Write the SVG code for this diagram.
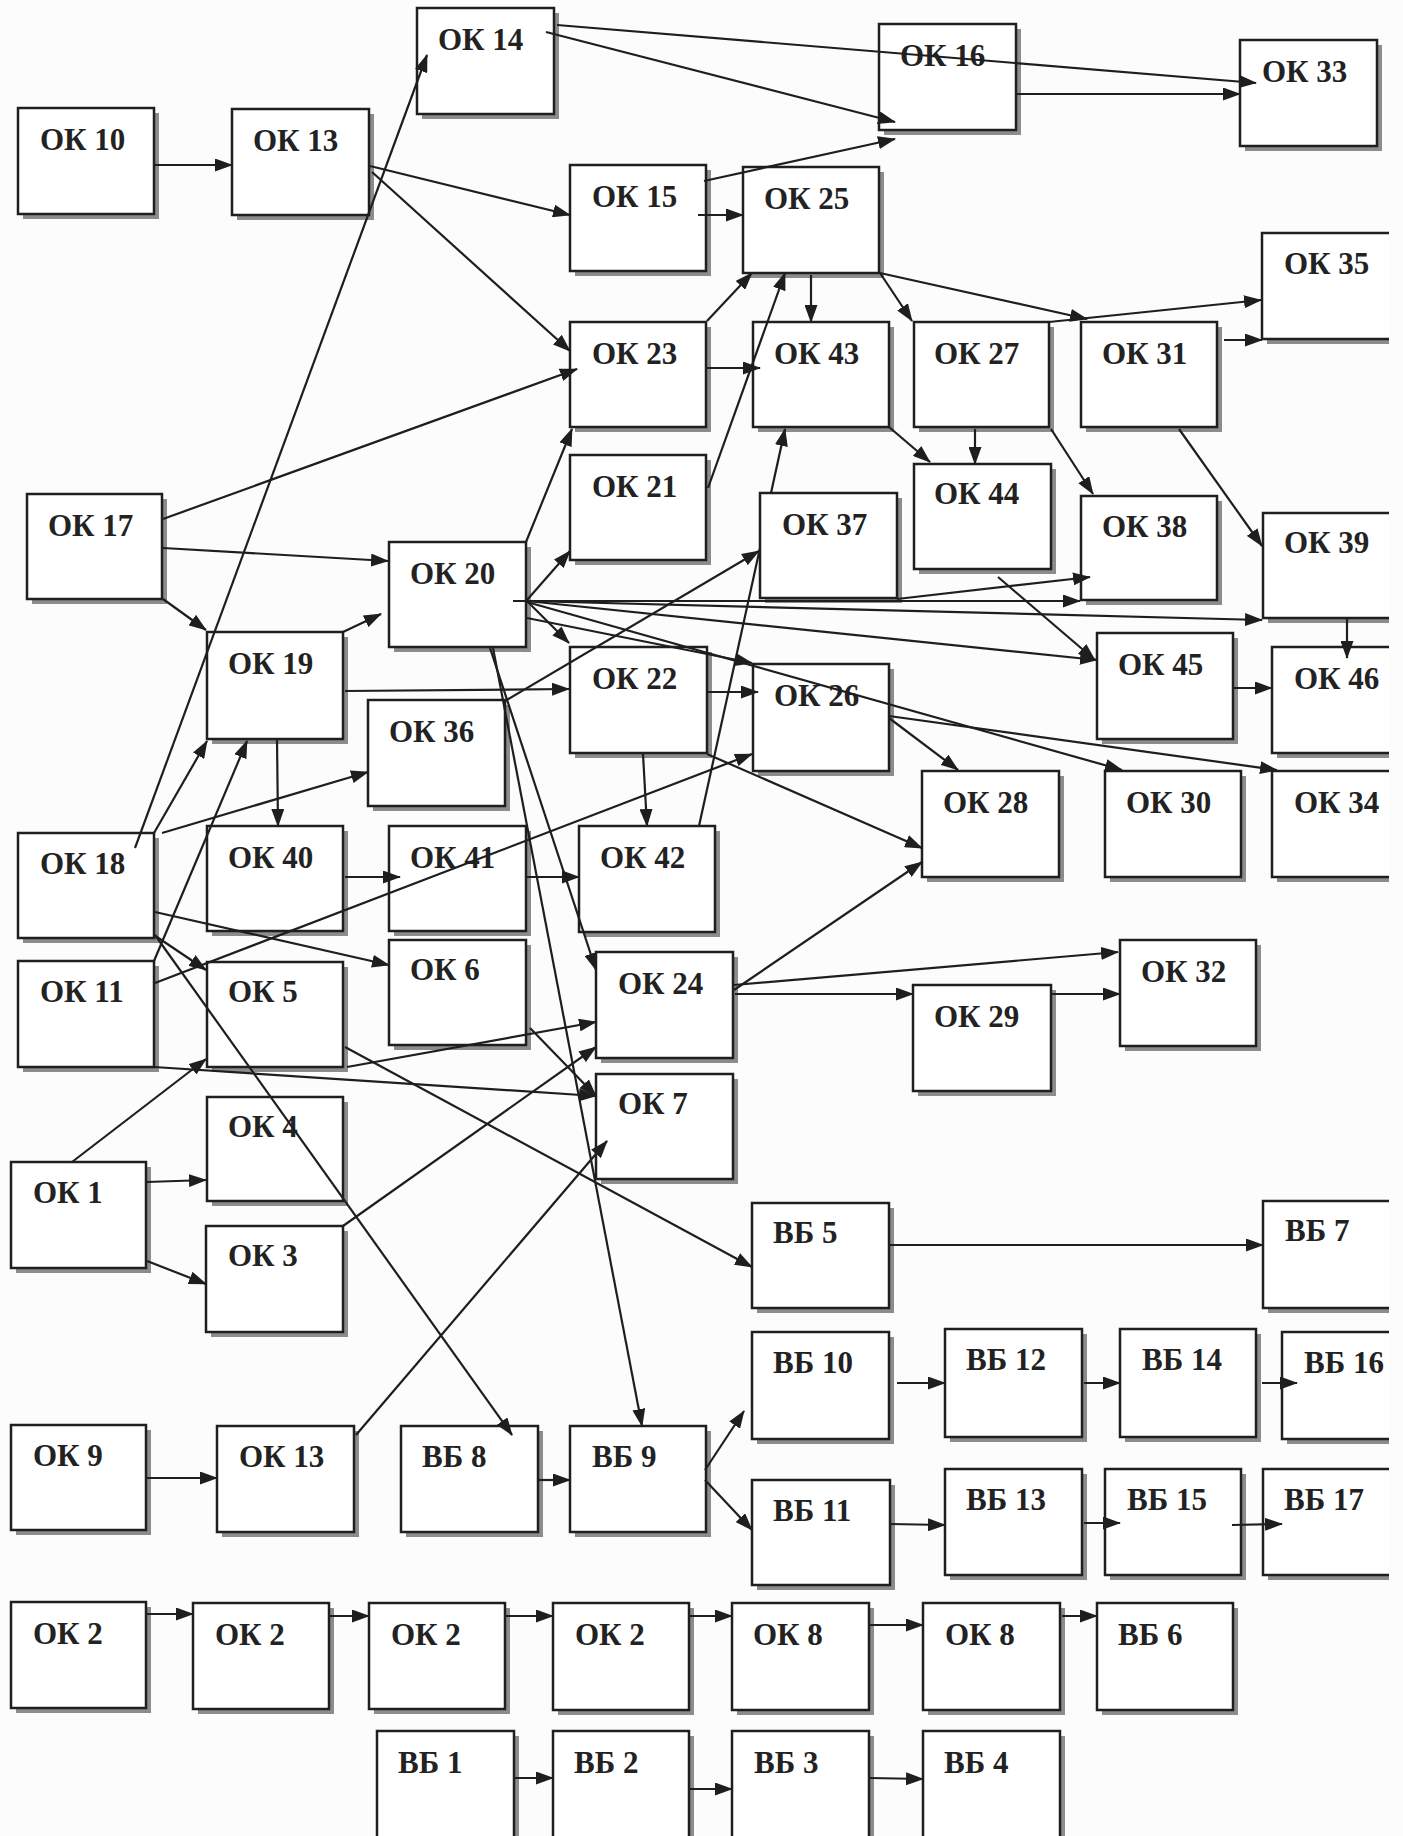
<svg xmlns="http://www.w3.org/2000/svg" width="1403" height="1836" viewBox="0 0 1403 1836">
<defs>
<marker id="ah" markerUnits="userSpaceOnUse" markerWidth="18" markerHeight="13" refX="17" refY="6.5" orient="auto" viewBox="0 0 18 13"><path d="M0,0 L18,6.5 L0,13 z" fill="#1e1e1e"/></marker>
</defs>
<style>
.sh{fill:#8c8c8c}
.bx{fill:#fff;stroke:#1f1f1f;stroke-width:2.5}
.bg{fill:#fff}
.ob{fill:none;stroke:#1f1f1f;stroke-width:2.5}
text{font-family:"Liberation Serif","Times New Roman",serif;font-weight:bold;font-size:31px;fill:#222}
#connectors path{stroke:#1e1e1e;stroke-width:2.2;fill:none}
#connectors .a{marker-end:url(#ah)}
</style>
<rect width="1403" height="1836" fill="#fcfcfc"/>
<g id="nodes">
<g id="ok14" transform="translate(417,8)"><rect class="sh" x="5" y="5" width="137" height="106"/><rect class="bx" width="137" height="106"/><text x="21" y="42">ОК 14</text></g>
<g id="ok16" transform="translate(879,24)"><rect class="sh" x="5" y="5" width="137" height="106"/><rect class="bx" width="137" height="106"/><text x="21" y="42">ОК 16</text></g>
<g id="ok33" transform="translate(1240,40)"><rect class="sh" x="5" y="5" width="137" height="106"/><rect class="bx" width="137" height="106"/><text x="22" y="42">ОК 33</text></g>
<g id="ok10" transform="translate(18,108)"><rect class="sh" x="5" y="5" width="136" height="106"/><rect class="bx" width="136" height="106"/><text x="22" y="42">ОК 10</text></g>
<g id="ok13a" transform="translate(232,109)"><rect class="sh" x="5" y="5" width="137" height="106"/><rect class="bx" width="137" height="106"/><text x="21" y="42">ОК 13</text></g>
<g id="ok15" transform="translate(570,165)"><rect class="sh" x="5" y="5" width="136" height="106"/><rect class="bx" width="136" height="106"/><text x="22" y="42">ОК 15</text></g>
<g id="ok25" transform="translate(743,167)"><rect class="sh" x="5" y="5" width="136" height="106"/><rect class="bx" width="136" height="106"/><text x="21" y="42">ОК 25</text></g>
<g id="ok35" transform="translate(1262,233)"><rect class="sh" x="5" y="5" width="122" height="106"/><rect class="bg" width="127" height="106"/><path class="ob" d="M127,0 H0 V106 H127"/><text x="22" y="41">ОК 35</text></g>
<g id="ok23" transform="translate(570,322)"><rect class="sh" x="5" y="5" width="136" height="105"/><rect class="bx" width="136" height="105"/><text x="22" y="42">ОК 23</text></g>
<g id="ok43" transform="translate(753,322)"><rect class="sh" x="5" y="5" width="136" height="105"/><rect class="bx" width="136" height="105"/><text x="21" y="42">ОК 43</text></g>
<g id="ok27" transform="translate(914,322)"><rect class="sh" x="5" y="5" width="135" height="105"/><rect class="bx" width="135" height="105"/><text x="20" y="42">ОК 27</text></g>
<g id="ok31" transform="translate(1081,322)"><rect class="sh" x="5" y="5" width="136" height="105"/><rect class="bx" width="136" height="105"/><text x="21" y="42">ОК 31</text></g>
<g id="ok21" transform="translate(570,455)"><rect class="sh" x="5" y="5" width="136" height="105"/><rect class="bx" width="136" height="105"/><text x="22" y="42">ОК 21</text></g>
<g id="ok44" transform="translate(914,464)"><rect class="sh" x="5" y="5" width="137" height="105"/><rect class="bx" width="137" height="105"/><text x="20" y="40">ОК 44</text></g>
<g id="ok17" transform="translate(27,494)"><rect class="sh" x="5" y="5" width="135" height="105"/><rect class="bx" width="135" height="105"/><text x="21" y="42">ОК 17</text></g>
<g id="ok37" transform="translate(760,493)"><rect class="sh" x="5" y="5" width="137" height="105"/><rect class="bx" width="137" height="105"/><text x="22" y="42">ОК 37</text></g>
<g id="ok38" transform="translate(1081,496)"><rect class="sh" x="5" y="5" width="136" height="104"/><rect class="bx" width="136" height="104"/><text x="21" y="41">ОК 38</text></g>
<g id="ok39" transform="translate(1263,513)"><rect class="sh" x="5" y="5" width="121" height="105"/><rect class="bg" width="126" height="105"/><path class="ob" d="M126,0 H0 V105 H126"/><text x="21" y="40">ОК 39</text></g>
<g id="ok20" transform="translate(389,542)"><rect class="sh" x="5" y="5" width="137" height="105"/><rect class="bx" width="137" height="105"/><text x="21" y="42">ОК 20</text></g>
<g id="ok19" transform="translate(207,632)"><rect class="sh" x="5" y="5" width="136" height="107"/><rect class="bx" width="136" height="107"/><text x="21" y="42">ОК 19</text></g>
<g id="ok22" transform="translate(570,647)"><rect class="sh" x="5" y="5" width="137" height="106"/><rect class="bx" width="137" height="106"/><text x="22" y="42">ОК 22</text></g>
<g id="ok26" transform="translate(753,664)"><rect class="sh" x="5" y="5" width="136" height="107"/><rect class="bx" width="136" height="107"/><text x="21" y="42">ОК 26</text></g>
<g id="ok45" transform="translate(1097,633)"><rect class="sh" x="5" y="5" width="136" height="106"/><rect class="bx" width="136" height="106"/><text x="21" y="42">ОК 45</text></g>
<g id="ok46" transform="translate(1272,647)"><rect class="sh" x="5" y="5" width="112" height="106"/><rect class="bg" width="117" height="106"/><path class="ob" d="M117,0 H0 V106 H117"/><text x="22" y="42">ОК 46</text></g>
<g id="ok36" transform="translate(368,700)"><rect class="sh" x="5" y="5" width="137" height="106"/><rect class="bx" width="137" height="106"/><text x="21" y="42">ОК 36</text></g>
<g id="ok28" transform="translate(922,771)"><rect class="sh" x="5" y="5" width="137" height="106"/><rect class="bx" width="137" height="106"/><text x="21" y="42">ОК 28</text></g>
<g id="ok30" transform="translate(1105,771)"><rect class="sh" x="5" y="5" width="136" height="106"/><rect class="bx" width="136" height="106"/><text x="21" y="42">ОК 30</text></g>
<g id="ok34" transform="translate(1272,771)"><rect class="sh" x="5" y="5" width="112" height="106"/><rect class="bg" width="117" height="106"/><path class="ob" d="M117,0 H0 V106 H117"/><text x="22" y="42">ОК 34</text></g>
<g id="ok18" transform="translate(18,833)"><rect class="sh" x="5" y="5" width="136" height="105"/><rect class="bx" width="136" height="105"/><text x="22" y="41">ОК 18</text></g>
<g id="ok40" transform="translate(207,826)"><rect class="sh" x="5" y="5" width="136" height="105"/><rect class="bx" width="136" height="105"/><text x="21" y="42">ОК 40</text></g>
<g id="ok41" transform="translate(389,826)"><rect class="sh" x="5" y="5" width="137" height="105"/><rect class="bx" width="137" height="105"/><text x="21" y="42">ОК 41</text></g>
<g id="ok42" transform="translate(579,826)"><rect class="sh" x="5" y="5" width="136" height="106"/><rect class="bx" width="136" height="106"/><text x="21" y="42">ОК 42</text></g>
<g id="ok11" transform="translate(18,961)"><rect class="sh" x="5" y="5" width="136" height="106"/><rect class="bx" width="136" height="106"/><text x="22" y="41">ОК 11</text></g>
<g id="ok5" transform="translate(207,962)"><rect class="sh" x="5" y="5" width="136" height="105"/><rect class="bx" width="136" height="105"/><text x="21" y="40">ОК 5</text></g>
<g id="ok6" transform="translate(389,940)"><rect class="sh" x="5" y="5" width="137" height="105"/><rect class="bx" width="137" height="105"/><text x="21" y="40">ОК 6</text></g>
<g id="ok24" transform="translate(596,952)"><rect class="sh" x="5" y="5" width="137" height="106"/><rect class="bx" width="137" height="106"/><text x="22" y="42">ОК 24</text></g>
<g id="ok32" transform="translate(1120,940)"><rect class="sh" x="5" y="5" width="136" height="106"/><rect class="bx" width="136" height="106"/><text x="21" y="42">ОК 32</text></g>
<g id="ok29" transform="translate(913,985)"><rect class="sh" x="5" y="5" width="138" height="106"/><rect class="bx" width="138" height="106"/><text x="21" y="42">ОК 29</text></g>
<g id="ok7" transform="translate(596,1074)"><rect class="sh" x="5" y="5" width="137" height="105"/><rect class="bx" width="137" height="105"/><text x="22" y="40">ОК 7</text></g>
<g id="ok4" transform="translate(207,1097)"><rect class="sh" x="5" y="5" width="136" height="104"/><rect class="bx" width="136" height="104"/><text x="21" y="40">ОК 4</text></g>
<g id="ok1" transform="translate(11,1162)"><rect class="sh" x="5" y="5" width="135" height="106"/><rect class="bx" width="135" height="106"/><text x="22" y="41">ОК 1</text></g>
<g id="ok3" transform="translate(206,1226)"><rect class="sh" x="5" y="5" width="137" height="106"/><rect class="bx" width="137" height="106"/><text x="22" y="40">ОК 3</text></g>
<g id="vb5" transform="translate(752,1203)"><rect class="sh" x="5" y="5" width="137" height="105"/><rect class="bx" width="137" height="105"/><text x="21" y="40">ВБ 5</text></g>
<g id="vb7" transform="translate(1263,1201)"><rect class="sh" x="5" y="5" width="121" height="107"/><rect class="bg" width="126" height="107"/><path class="ob" d="M126,0 H0 V107 H126"/><text x="22" y="40">ВБ 7</text></g>
<g id="vb10" transform="translate(752,1332)"><rect class="sh" x="5" y="5" width="137" height="107"/><rect class="bx" width="137" height="107"/><text x="21" y="41">ВБ 10</text></g>
<g id="vb12" transform="translate(945,1329)"><rect class="sh" x="5" y="5" width="137" height="108"/><rect class="bx" width="137" height="108"/><text x="21" y="41">ВБ 12</text></g>
<g id="vb14" transform="translate(1120,1329)"><rect class="sh" x="5" y="5" width="136" height="108"/><rect class="bx" width="136" height="108"/><text x="22" y="41">ВБ 14</text></g>
<g id="vb16" transform="translate(1282,1332)"><rect class="sh" x="5" y="5" width="102" height="107"/><rect class="bg" width="107" height="107"/><path class="ob" d="M107,0 H0 V107 H107"/><text x="22" y="41">ВБ 16</text></g>
<g id="ok9" transform="translate(11,1425)"><rect class="sh" x="5" y="5" width="135" height="105"/><rect class="bx" width="135" height="105"/><text x="22" y="41">ОК 9</text></g>
<g id="ok13b" transform="translate(217,1426)"><rect class="sh" x="5" y="5" width="137" height="106"/><rect class="bx" width="137" height="106"/><text x="22" y="41">ОК 13</text></g>
<g id="vb8" transform="translate(401,1426)"><rect class="sh" x="5" y="5" width="137" height="106"/><rect class="bx" width="137" height="106"/><text x="21" y="41">ВБ 8</text></g>
<g id="vb9" transform="translate(570,1426)"><rect class="sh" x="5" y="5" width="136" height="106"/><rect class="bx" width="136" height="106"/><text x="22" y="41">ВБ 9</text></g>
<g id="vb11" transform="translate(752,1480)"><rect class="sh" x="5" y="5" width="138" height="105"/><rect class="bx" width="138" height="105"/><text x="21" y="41">ВБ 11</text></g>
<g id="vb13" transform="translate(945,1469)"><rect class="sh" x="5" y="5" width="137" height="106"/><rect class="bx" width="137" height="106"/><text x="21" y="41">ВБ 13</text></g>
<g id="vb15" transform="translate(1105,1469)"><rect class="sh" x="5" y="5" width="136" height="106"/><rect class="bx" width="136" height="106"/><text x="22" y="41">ВБ 15</text></g>
<g id="vb17" transform="translate(1263,1469)"><rect class="sh" x="5" y="5" width="121" height="106"/><rect class="bg" width="126" height="106"/><path class="ob" d="M126,0 H0 V106 H126"/><text x="21" y="41">ВБ 17</text></g>
<g id="ok2a" transform="translate(11,1602)"><rect class="sh" x="5" y="5" width="135" height="106"/><rect class="bx" width="135" height="106"/><text x="22" y="42">ОК 2</text></g>
<g id="ok2b" transform="translate(193,1603)"><rect class="sh" x="5" y="5" width="136" height="106"/><rect class="bx" width="136" height="106"/><text x="22" y="42">ОК 2</text></g>
<g id="ok2c" transform="translate(369,1603)"><rect class="sh" x="5" y="5" width="136" height="106"/><rect class="bx" width="136" height="106"/><text x="22" y="42">ОК 2</text></g>
<g id="ok2d" transform="translate(553,1603)"><rect class="sh" x="5" y="5" width="136" height="107"/><rect class="bx" width="136" height="107"/><text x="22" y="42">ОК 2</text></g>
<g id="ok8a" transform="translate(732,1603)"><rect class="sh" x="5" y="5" width="137" height="107"/><rect class="bx" width="137" height="107"/><text x="21" y="42">ОК 8</text></g>
<g id="ok8b" transform="translate(923,1603)"><rect class="sh" x="5" y="5" width="137" height="107"/><rect class="bx" width="137" height="107"/><text x="22" y="42">ОК 8</text></g>
<g id="vb6" transform="translate(1097,1603)"><rect class="sh" x="5" y="5" width="136" height="107"/><rect class="bx" width="136" height="107"/><text x="21" y="42">ВБ 6</text></g>
<g id="vb1" transform="translate(377,1731)"><rect class="sh" x="5" y="5" width="137" height="120"/><rect class="bx" width="137" height="120"/><text x="21" y="42">ВБ 1</text></g>
<g id="vb2" transform="translate(553,1731)"><rect class="sh" x="5" y="5" width="136" height="120"/><rect class="bx" width="136" height="120"/><text x="21" y="42">ВБ 2</text></g>
<g id="vb3" transform="translate(732,1731)"><rect class="sh" x="5" y="5" width="137" height="120"/><rect class="bx" width="137" height="120"/><text x="22" y="42">ВБ 3</text></g>
<g id="vb4" transform="translate(923,1731)"><rect class="sh" x="5" y="5" width="137" height="120"/><rect class="bx" width="137" height="120"/><text x="21" y="42">ВБ 4</text></g>
</g>
<g id="connectors">
<path class="a" d="M154,165 L232,165"/>
<path class="a" d="M370,166 L570,215"/>
<path class="a" d="M372,172 L570,351"/>
<path class="a" d="M557,25 L1256,83"/>
<path class="a" d="M546,32 L895,122"/>
<path class="a" d="M704,181 L895,139"/>
<path class="a" d="M698,215 L743,215"/>
<path class="a" d="M1017,94 L1240,94"/>
<path class="a" d="M163,519 L577,369"/>
<path class="a" d="M163,548 L388,561"/>
<path class="a" d="M163,599 L206,630"/>
<path class="a" d="M135,848 L427,55"/>
<path class="a" d="M707,321 L752,273"/>
<path class="a" d="M707,368 L760,368"/>
<path class="a" d="M811,275 L811,322"/>
<path class="a" d="M708,488 L785,273"/>
<path class="a" d="M880,273 L912,321"/>
<path class="a" d="M880,273 L1087,319"/>
<path class="a" d="M1049,322 L1261,300"/>
<path class="a" d="M1224,340 L1262,340"/>
<path class="a" d="M975,429 L975,464"/>
<path class="a" d="M889,427 L930,462"/>
<path class="a" d="M1051,429 L1093,494"/>
<path class="a" d="M1179,429 L1262,546"/>
<path class="a" d="M526,542 L572,429"/>
<path class="a" d="M527,600 L570,551"/>
<path class="a" d="M771,493 L785,429"/>
<path class="a" d="M505,701 L759,551"/>
<path d="M699,826 L760,548"/>
<path class="a" d="M897,599 L1090,577"/>
<path class="a" d="M513,601 L1080,601"/>
<path class="a" d="M527,601 L1262,620"/>
<path class="a" d="M1347,619 L1347,658"/>
<path class="a" d="M527,601 L1097,660"/>
<path class="a" d="M527,601 L569,643"/>
<path class="a" d="M527,618 L752,663"/>
<path class="a" d="M527,602 L1122,770"/>
<path class="a" d="M998,577 L1095,660"/>
<path class="a" d="M1234,688 L1272,688"/>
<path class="a" d="M889,718 L958,770"/>
<path class="a" d="M889,716 L1277,770"/>
<path class="a" d="M343,632 L381,614"/>
<path class="a" d="M345,691 L569,689"/>
<path class="a" d="M707,692 L758,692"/>
<path class="a" d="M643,754 L647,826"/>
<path class="a" d="M707,754 L922,848"/>
<path class="a" d="M155,983 L752,754"/>
<path class="a" d="M527,877 L579,877"/>
<path class="a" d="M490,648 L596,970"/>
<path class="a" d="M493,648 L642,1426"/>
<path class="a" d="M530,1028 L596,1096"/>
<path class="a" d="M734,990 L922,862"/>
<path class="a" d="M734,985 L1118,952"/>
<path class="a" d="M735,994 L913,994"/>
<path class="a" d="M347,1067 L596,1022"/>
<path class="a" d="M343,1226 L596,1047"/>
<path class="a" d="M154,1067 L596,1096"/>
<path class="a" d="M345,1047 L752,1267"/>
<path class="a" d="M356,1435 L607,1141"/>
<path class="a" d="M154,833 L207,741"/>
<path class="a" d="M154,961 L247,741"/>
<path class="a" d="M277,739 L278,826"/>
<path class="a" d="M162,833 L368,772"/>
<path class="a" d="M345,877 L400,877"/>
<path class="a" d="M155,912 L389,965"/>
<path class="a" d="M154,935 L206,970"/>
<path class="a" d="M155,935 L512,1435"/>
<path class="a" d="M72,1162 L206,1059"/>
<path class="a" d="M147,1182 L206,1180"/>
<path class="a" d="M147,1261 L206,1284"/>
<path class="a" d="M1052,994 L1120,994"/>
<path class="a" d="M889,1245 L1263,1245"/>
<path class="a" d="M897,1383 L945,1383"/>
<path class="a" d="M890,1524 L945,1525"/>
<path class="a" d="M1084,1383 L1120,1383"/>
<path class="a" d="M1262,1383 L1297,1383"/>
<path class="a" d="M1084,1523 L1120,1523"/>
<path class="a" d="M1232,1525 L1282,1524"/>
<path class="a" d="M147,1478 L217,1478"/>
<path class="a" d="M538,1480 L570,1480"/>
<path class="a" d="M705,1470 L744,1411"/>
<path class="a" d="M705,1480 L752,1530"/>
<path class="a" d="M147,1614 L193,1614"/>
<path class="a" d="M330,1616 L369,1616"/>
<path class="a" d="M505,1616 L553,1616"/>
<path class="a" d="M690,1616 L732,1616"/>
<path class="a" d="M870,1625 L923,1625"/>
<path class="a" d="M1062,1616 L1097,1616"/>
<path class="a" d="M515,1778 L553,1778"/>
<path class="a" d="M690,1789 L732,1789"/>
<path class="a" d="M870,1778 L923,1779"/>
</g>
</svg>
